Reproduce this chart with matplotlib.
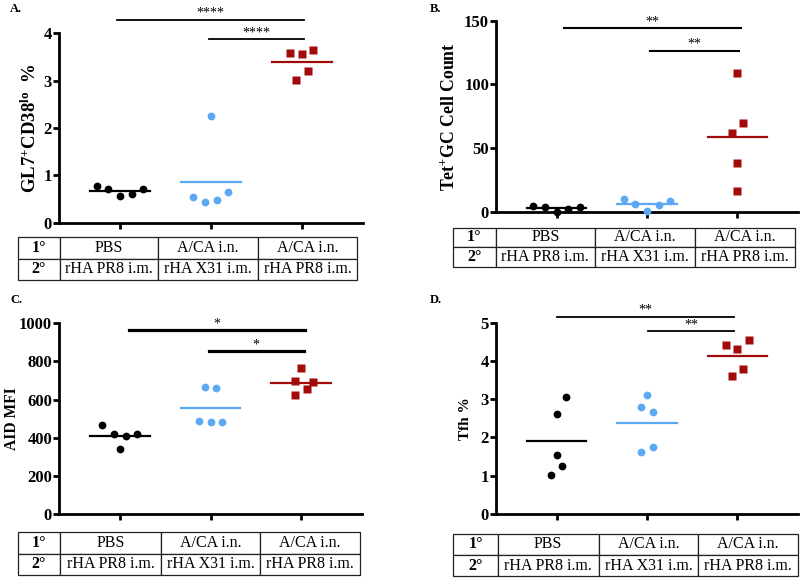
import matplotlib
matplotlib.use("Agg")
import matplotlib.pyplot as plt
import numpy as np

plt.rcParams["font.family"] = ["Liberation Serif", "DejaVu Serif"]
plt.rcParams["mathtext.default"] = "regular"

# Group colours / markers (PBS, A/CA + X31, A/CA + PR8).
COLORS = ["#000000", "#5AA9F2", "#A30A0A"]
MARKERS = ["o", "o", "s"]

ROW_1 = ["1°", "PBS", "A/CA i.n.", "A/CA i.n."]
ROW_2 = ["2°", "rHA PR8 i.m.", "rHA X31 i.m.", "rHA PR8 i.m."]

# Panel A: GL7+CD38lo %
a_pbs = [0.78, 0.71, 0.57, 0.60, 0.71]
a_x31 = [2.25, 0.54, 0.44, 0.47, 0.64]
a_pr8 = [3.59, 3.56, 3.64, 3.21, 3.01]

# Panel B: Tet+ GC cell count
b_pbs = [4.5, 3.6, 0.0, 2.6, 3.6]
b_x31 = [9.9, 6.3, 0.8, 5.7, 8.4]
b_pr8 = [108.7, 69.5, 61.7, 38.7, 16.7]

# Panel C: AID MFI
c_pbs = [468, 418, 409, 421, 339]
c_x31 = [668, 660, 489, 482, 484]
c_pr8 = [764, 697, 692, 657, 624]

# Panel D: Tfh %
d_pbs = [3.07, 2.61, 1.55, 1.26, 1.02]
d_x31 = [3.11, 2.79, 2.66, 1.75, 1.62]
d_pr8 = [4.56, 4.42, 4.30, 3.78, 3.60]

# Horizontal scatter offsets, in marker spacings.
a_jit = [[-2, -1, 0, 1, 2], [0, -1.5, -0.5, 0.5, 1.5], [-1, 0, 1, 0.5, -0.5]]
b_jit = [[-2, -1, 0, 1, 2], [-2, -1, 0, 1, 2], [0, 0.5, -0.5, 0, 0]]
c_jit = [[-1.5, -0.5, 0.5, 1.5, 0], [-0.5, 0.5, -1, 0, 1], [0, -0.5, 1, 0.5, -0.5]]
d_jit = [[0.8, 0, 0, 0.5, -0.5], [0, -0.5, 0.5, 0.5, -0.5], [1, -1, 0, 0.5, -0.5]]

# Significance brackets: (x start, x end, height, label)
a_sig = [(-0.03, 2.02, 4.28, "****"), (0.98, 2.02, 3.87, "****")]
b_sig = [(0.08, 2.04, 144.2, "**"), (1.03, 2.02, 126.5, "**")]
c_sig = [(0.10, 2.04, 963, "*"), (0.98, 2.03, 853, "*")]
d_sig = [(0.0, 1.96, 5.16, "**"), (1.01, 1.96, 4.78, "**")]

W, H = 800, 578
SPACING = 0.128


def px_box(x0, y0, x1, y1):
    # pixel box (top-left origin) -> figure fraction rect
    return [x0 / W, 1 - y1 / H, (x1 - x0) / W, (y1 - y0) / H]


def draw_panel(fig, rect, groups, jitter, sig, ylim, yticks, ylabel, ylabel_x, ylabel_size,
               sig_lw, letter, letter_xy):
    ax = fig.add_axes(rect)
    for i, vals in enumerate(groups):
        xs = i + np.array(jitter[i]) * SPACING
        ax.plot(xs, vals, ls="none", marker=MARKERS[i], color=COLORS[i],
                markersize=6 if MARKERS[i] == "s" else 5.6, mec="none", clip_on=False, zorder=3)
        m = np.mean(vals)
        ax.plot([i - 0.33, i + 0.33], [m, m], color=COLORS[i], lw=1.6, zorder=2)

    for x0, x1, y, lab in sig:
        ax.plot([x0, x1], [y, y], color="black", lw=sig_lw, clip_on=False)
        ax.text((x0 + x1) / 2, y, lab, ha="center", va="bottom", fontsize=10, clip_on=False)

    ax.set_xlim(-0.67, 2.67)
    ax.set_ylim(*ylim)
    ax.set_xticks([0, 1, 2])
    ax.set_xticklabels([])
    ax.set_yticks(yticks)
    ax.set_yticklabels([str(t) for t in yticks], fontweight="bold", fontsize=12)
    ax.tick_params(axis="both", direction="out", length=4, width=2, pad=1)
    for s in ["top", "right"]:
        ax.spines[s].set_visible(False)
    for s in ["left", "bottom"]:
        ax.spines[s].set_linewidth(2)
    ax.set_ylabel(ylabel, fontweight="bold", fontsize=ylabel_size)
    ax.yaxis.set_label_coords(ylabel_x, 0.5)
    fig.text(letter_xy[0] / W, 1 - letter_xy[1] / H, letter, fontweight="bold",
             fontsize=9, ha="left", va="top")
    return ax


def draw_table(fig, rect, col_px):
    tax = fig.add_axes(rect)
    tax.axis("off")
    widths = np.array(col_px) / np.sum(col_px)
    tbl = tax.table(cellText=[ROW_1, ROW_2], colWidths=widths, bbox=[0, 0, 1, 1], cellLoc="center")
    tbl.auto_set_font_size(False)
    for (r, c), cell in tbl.get_celld().items():
        cell.set_edgecolor("#222222")
        cell.set_linewidth(0.9)
        cell.get_text().set_fontsize(11.5)
        if c == 0:
            cell.get_text().set_fontweight("bold")


fig = plt.figure(figsize=(8, 5.78), dpi=100)

draw_panel(fig, px_box(59, 33.3, 362.7, 222.7), [a_pbs, a_x31, a_pr8], a_jit, a_sig,
           (0, 4), [0, 1, 2, 3, 4], "GL7$^{+}$CD38$^{lo}$  %", -0.063, 13.5, 1.3, "A.", (10, 3))
draw_table(fig, px_box(18, 237, 357, 280), [42, 98, 100, 99])

draw_panel(fig, px_box(496, 20.7, 798, 212), [b_pbs, b_x31, b_pr8], b_jit, b_sig,
           (0, 150), [0, 50, 100, 150], "Tet$^{+}$GC Cell Count", -0.126, 12.8, 1.5, "B.", (430, 3))
draw_table(fig, px_box(452.7, 227.7, 795, 266.7), [43, 99.3, 100, 100])

draw_panel(fig, px_box(59, 323.3, 362, 514), [c_pbs, c_x31, c_pr8], c_jit, c_sig,
           (0, 1000), [0, 200, 400, 600, 800, 1000], "AID MFI", -0.128, 11.2, 2.3, "C.", (10, 294))
draw_table(fig, px_box(18, 532.3, 360, 575), [42, 101, 99, 100])

draw_panel(fig, px_box(496, 322.7, 798, 514), [d_pbs, d_x31, d_pr8], d_jit, d_sig,
           (0, 5), [0, 1, 2, 3, 4, 5], "Tfh %", -0.08, 11, 1.3, "D.", (430, 294))
draw_table(fig, px_box(453.3, 534, 797.7, 576), [44.4, 101, 99.6, 99.4])

fig.savefig("out.png", dpi=100)
